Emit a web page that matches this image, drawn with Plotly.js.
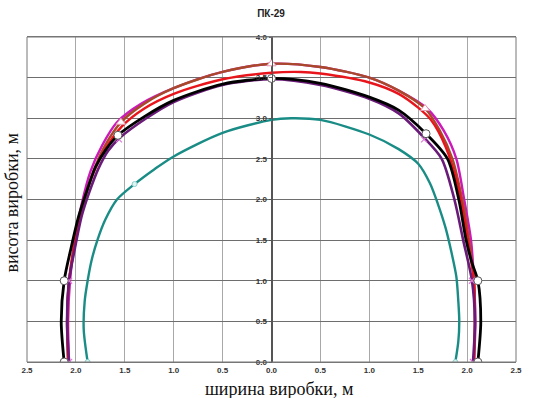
<!DOCTYPE html>
<html><head><meta charset="utf-8">
<script src="https://cdn.plot.ly/plotly-3.0.1.min.js"></script>
<style>html,body{margin:0;padding:0;background:#fff}#chart{width:542px;height:398px}</style>
</head><body><div id="chart"></div>
<script>
// ---- data (metres) ----
var xTickVals = [-2.5,-2.0,-1.5,-1.0,-0.5,0,0.5,1.0,1.5,2.0,2.5];
var xTickText = ['2.5','2.0','1.5','1.0','0.5','0.0','0.5','1.0','1.5','2.0','2.5'];
var yTickVals = [0,0.5,1.0,1.5,2.0,2.5,3.0,3.5,4.0];
var yTickText = ['0.0','0.5','1.0','1.5','2.0','2.5','3.0','3.5','4.0'];

var magentaX = [-2.07,-2.08,-2.06,-2.01,-1.94,-1.85,-1.73,-1.58,-1.33,-1.0,-0.5,0,0.5,1.0,1.3,1.59,1.76,1.89,1.97,2.04,2.07,2.085,2.07];
var magentaY = [0,0.5,1.0,1.5,1.95,2.35,2.67,2.95,3.18,3.37,3.57,3.67,3.63,3.50,3.34,3.12,2.85,2.5,2.0,1.5,1.0,0.5,0];

var brownX = [-2.08,-2.09,-2.07,-2.0,-1.92,-1.82,-1.70,-1.54,-1.30,-1.0,-0.5,0,0.5,1.0,1.3,1.57,1.72,1.85,1.95,2.02,2.07,2.08,2.07];
var brownY = [0,0.5,1.0,1.5,1.95,2.35,2.67,2.95,3.18,3.37,3.57,3.67,3.63,3.50,3.34,3.12,2.85,2.5,2.0,1.5,1.0,0.5,0];

var redX = [-2.08,-2.09,-2.07,-2.01,-1.93,-1.82,-1.69,-1.53,-1.30,-1.0,-0.5,0,0.3,0.5,1.0,1.3,1.5,1.63,1.78,1.90,1.98,2.04,2.07,2.08,2.07];
var redY = [0,0.5,1.0,1.5,1.95,2.33,2.64,2.90,3.12,3.30,3.48,3.56,3.57,3.55,3.44,3.30,3.13,2.98,2.65,2.2,1.7,1.25,1.0,0.5,0];

var purpleX = [-2.07,-2.09,-2.07,-2.01,-1.94,-1.86,-1.77,-1.67,-1.55,-1.28,-1.0,-0.5,0,0.5,1.0,1.3,1.56,1.74,1.87,1.96,2.05,2.08,2.06];
var purpleY = [0,0.5,1.0,1.4,1.8,2.1,2.38,2.6,2.76,3.0,3.2,3.41,3.48,3.41,3.24,3.06,2.76,2.5,2.0,1.5,1.0,0.5,0];

var blackX = [-2.12,-2.15,-2.12,-2.05,-1.97,-1.89,-1.80,-1.69,-1.57,-1.30,-1.0,-0.5,0,0.5,1.0,1.3,1.58,1.80,1.915,1.99,2.05,2.11,2.14,2.11];
var blackY = [0,0.5,1.0,1.4,1.8,2.1,2.4,2.62,2.79,3.02,3.22,3.42,3.49,3.43,3.26,3.10,2.81,2.5,2.0,1.5,1.22,1.0,0.5,0];

var tealX = [-1.88,-1.92,-1.91,-1.88,-1.84,-1.78,-1.70,-1.58,-1.40,-1.20,-1.0,-0.5,0,0.2,0.5,1.0,1.3,1.50,1.62,1.70,1.78,1.84,1.89,1.91,1.92,1.91,1.88];
var tealY = [0,0.4,0.75,1.0,1.25,1.5,1.75,2.0,2.19,2.37,2.53,2.82,2.98,3.0,2.98,2.80,2.62,2.44,2.2,1.95,1.65,1.35,1.05,0.75,0.5,0.25,0];

var circleX = [-2.12,-2.12,-1.57,0,1.58,2.11,2.11];
var circleY = [0,1.0,2.79,3.49,2.81,1.0,0];
var triX = [-1.54,0,1.57];
var triY = [2.95,3.67,3.12];
var crossX = [-2.07,-2.07,-1.56,1.56,2.05,2.06];
var crossY = [0,1.0,2.74,2.74,1.0,0];
var tealMarkX = [-1.88,-1.40,1.88];
var tealMarkY = [0,2.19,0];

function line(x,y,color,w){
  return {type:'scatter',mode:'lines',x:x,y:y,line:{color:color,width:w,shape:'spline',smoothing:0.8},hoverinfo:'skip',showlegend:false};
}
var traces = [
  line(magentaX,magentaY,'#cc1ab8',2.4),
  line(brownX,brownY,'#a84a2a',2.4),
  line(redX,redY,'#e8161c',2.4),
  line(purpleX,purpleY,'#6a1a78',2.6),
  line(blackX,blackY,'#000000',2.8),
  line(tealX,tealY,'#1a8c86',2.4),
  {type:'scatter',mode:'markers',x:crossX,y:crossY,marker:{symbol:'x-thin-open',size:6,color:'#e07ad8',line:{width:1.2,color:'#e07ad8'}},showlegend:false,hoverinfo:'skip'},
  {type:'scatter',mode:'markers',x:triX,y:triY,marker:{symbol:'triangle-up',size:8,color:'#ffffff',line:{width:1,color:'#e49ab0'}},showlegend:false,hoverinfo:'skip'},
  {type:'scatter',mode:'markers',x:tealMarkX,y:tealMarkY,marker:{symbol:'circle',size:5,color:'#dff5f3',line:{width:1,color:'#8ad0cc'}},showlegend:false,hoverinfo:'skip'},
  {type:'scatter',mode:'markers',x:circleX,y:circleY,marker:{symbol:'circle',size:8,color:'#ffffff',line:{width:1,color:'#555555'}},showlegend:false,hoverinfo:'skip'}
];

var layout = {
  width:542, height:398,
  margin:{l:27,r:26,t:37,b:36},
  paper_bgcolor:'#ffffff', plot_bgcolor:'#ffffff',
  title:{text:'<b>ПК-29</b>', font:{family:'Arial, Liberation Sans, sans-serif',size:10,color:'#222'}, x:0.5, xanchor:'center', y:0.965, yanchor:'middle'},
  xaxis:{range:[-2.5,2.5], tickmode:'array', tickvals:xTickVals, ticktext:xTickText,
    showgrid:true, gridcolor:'#a8a8a8', gridwidth:1, zeroline:true, zerolinecolor:'#555', zerolinewidth:1,
    showline:true, linecolor:'#777', linewidth:1, mirror:true, ticks:'', fixedrange:true,
    tickfont:{family:'Arial, Liberation Sans, sans-serif',size:8,color:'#333',weight:'bold'}},
  yaxis:{range:[0,4], tickmode:'array', tickvals:yTickVals, ticktext:yTickText,
    anchor:'free', position:0.5, showgrid:true, gridcolor:'#6e6e6e', gridwidth:1, zeroline:false,
    showline:true, linecolor:'#555', linewidth:1, ticks:'outside', ticklen:3, tickcolor:'#555', fixedrange:true,
    tickfont:{family:'Arial, Liberation Sans, sans-serif',size:8,color:'#333',weight:'bold'}},
  shapes:[{type:'rect',xref:'paper',yref:'paper',x0:0,x1:1,y0:0,y1:1,line:{color:'#777',width:1}}],
  annotations:[
    {text:'висота виробки, м', xref:'paper', yref:'paper', x:-0.031, y:0.49, xanchor:'center', yanchor:'middle', textangle:-90, showarrow:false,
      font:{family:'Liberation Serif, Times New Roman, serif', size:18, color:'#111'}},
    {text:'ширина виробки, м', xref:'paper', yref:'paper', x:0.515, y:-0.047, xanchor:'center', yanchor:'top', showarrow:false,
      font:{family:'Liberation Serif, Times New Roman, serif', size:18, color:'#111'}}
  ]
};
Plotly.newPlot('chart', traces, layout, {displayModeBar:false, staticPlot:true});
</script></body></html>
